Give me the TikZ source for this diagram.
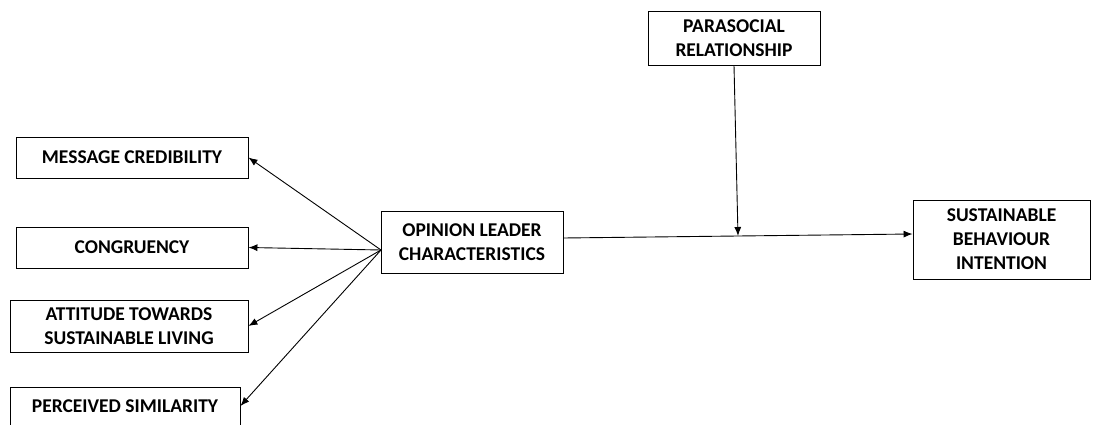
\documentclass[tikz,border=0pt]{standalone}
\usepackage{fontspec}
\setmainfont{Carlito}
\usetikzlibrary{shapes,arrows,arrows.meta,positioning,calc}

\begin{document}
\begin{tikzpicture}[x=1pt,y=-1pt,
  varbox/.style={rectangle,draw,line width=0.9pt,align=center,inner sep=0pt,
    font=\bfseries\fontsize{19.5}{24}\selectfont},
  link/.style={-{Latex[length=9pt,width=7pt]},line width=0.9pt}]
\useasboundingbox (0,0) rectangle (1106,425);
\clip (0,0) rectangle (1106,425);
       \node [varbox,minimum width=232,minimum height=41]  (mc) at (132,157.5) {MESSAGE CREDIBILITY};
       \node [varbox,minimum width=232,minimum height=41]  (cong) at (132,247.5) {CONGRUENCY};
       \node [varbox,minimum width=238,minimum height=52]  (att) at (129,326) {ATTITUDE TOWARDS\\SUSTAINABLE LIVING};
       \node [varbox,minimum width=230,minimum height=38]  (ps) at (125,406) {PERCEIVED SIMILARITY};
       \node [varbox,minimum width=182,minimum height=62]  (ol) at (472,242) {OPINION LEADER\\CHARACTERISTICS};
       \node [varbox,minimum width=172,minimum height=54]  (pr) at (734,38) {PARASOCIAL\\RELATIONSHIP};
       \node [varbox,minimum width=177,minimum height=79]  (sb) at (1001.5,239.5) {SUSTAINABLE\\BEHAVIOUR\\INTENTION};
\coordinate (src) at (381,250);
\coordinate (from) at ([yshift=4pt]ol.east);
\coordinate (to) at ([yshift=5.5pt]sb.west);
\coordinate (junc) at ($(from)!0.5!(to)$);
\draw [link] (src)--(mc.east) ;
\draw [link] (src)--(cong.east) ;
\draw [link] (src)--(att.east) ;
\draw [link] (src)--(ps.east) ;
\draw [link] (from)--(to) ;
\draw [link] (pr.south)--(junc) ;
\end{tikzpicture}
\end{document}
